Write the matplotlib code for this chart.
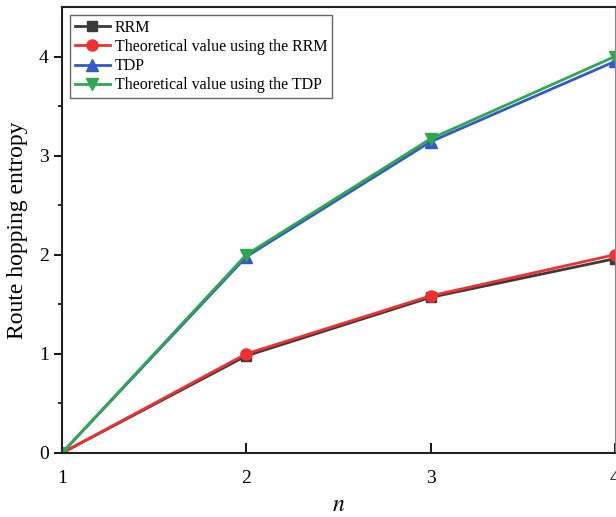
import matplotlib.pyplot as plt
import numpy as np

plt.rcParams['font.family'] = ['Liberation Serif', 'DejaVu Serif']
plt.rcParams['mathtext.fontset'] = 'stix'

# Data
n = [1, 2, 3, 4]
rrm = [0, 0.98, 1.57, 1.96]
rrm_theory = [0, 1.0, 1.585, 2.0]
tdp = [0, 1.98, 3.14, 3.95]
tdp_theory = [0, 2.0, 3.17, 4.0]

fig = plt.figure(figsize=(6.16, 5.17), dpi=100)
ax = fig.add_axes([0.1006, 0.1238, 0.8974, 0.8627])

ax.plot(n, rrm, color='#3a3a3a', marker='s', markersize=7, lw=2, label='RRM')
ax.plot(n, rrm_theory, color='#f03030', marker='o', markersize=8, lw=2,
        label='Theoretical value using the RRM')
ax.plot(n, tdp, color='#3458c8', marker='^', markersize=8, lw=2, label='TDP')
ax.plot(n, tdp_theory, color='#2ea84e', marker='v', markersize=8, lw=2,
        label='Theoretical value using the TDP')

ax.set_xlim(1, 4)
ax.set_ylim(0, 4.5)
ax.set_xticks([1, 2, 3, 4])
ax.set_yticks([0, 1, 2, 3, 4])
ax.set_yticks(np.arange(0.5, 4.5, 1), minor=True)
ax.tick_params(axis='x', direction='in', length=7, width=1.3, labelsize=14, pad=12)
ax.tick_params(axis='y', which='major', direction='out', length=6, width=1.3, labelsize=14)
ax.tick_params(axis='y', which='minor', direction='out', length=3, width=1.2)

ax.set_xlabel('$n$', fontsize=17, labelpad=6)
ax.set_ylabel('Route hopping entropy', fontsize=17, labelpad=8)

for side in ['left', 'bottom', 'top']:
    ax.spines[side].set_linewidth(1.5)
    ax.spines[side].set_color('#222222')
ax.spines['right'].set_color('#888888')

ax.legend(loc='upper left', fontsize=11.5, handlelength=2.2, fancybox=False,
          edgecolor='#666666', framealpha=1, borderaxespad=0.5,
          labelspacing=0.2, handletextpad=0.3, borderpad=0.3)

fig.savefig('out.png', dpi=100)
